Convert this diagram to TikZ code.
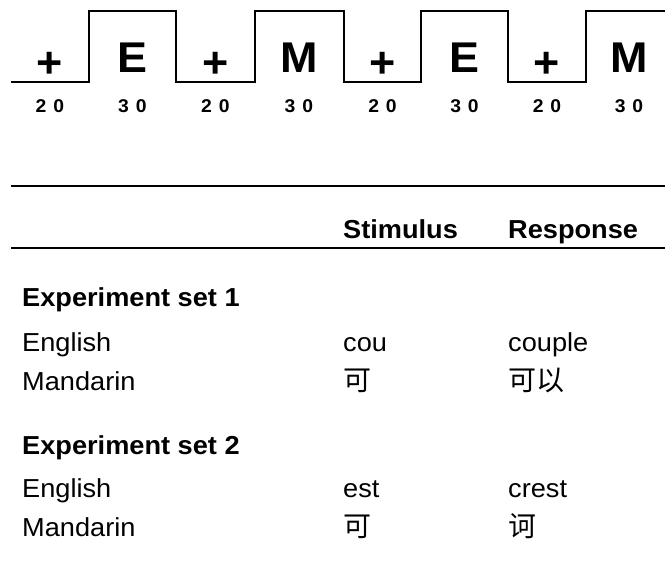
\documentclass[tikz,border=0pt]{standalone}
\usepackage{fontspec}
\setmainfont[FakeStretch=1.045]{Liberation Sans}
\newfontfamily\cjk{Noto Sans CJK SC}
\begin{document}
\begin{tikzpicture}[x=1pt,y=-1pt,
  wave/.style={line width=2pt, line join=miter},
  rulel/.style={line width=2pt},
  big/.style={font=\fontsize{43}{43}\selectfont\bfseries, inner sep=0pt, anchor=base},
  dur/.style={font=\fontsize{18.5}{18.5}\selectfont\bfseries, inner sep=0pt, anchor=base},
  head/.style={font=\fontsize{26}{30}\selectfont\bfseries, inner sep=0pt, anchor=base west},
  txt/.style={font=\fontsize{26}{30}\selectfont, inner sep=0pt, anchor=base west},
  zh/.style={font=\cjk\fontsize{28}{30}\selectfont, inner sep=0pt, anchor=base west},
]
\useasboundingbox (0,0) rectangle (665,577);
% stimulus sequence waveform
\draw[wave] (11,82) -- (89,82) -- (89,11) -- (176,11) -- (176,82) -- (255,82)
  -- (255,11) -- (344,11) -- (344,82) -- (421,82) -- (421,11) -- (508,11)
  -- (508,82) -- (586,82) -- (586,11) -- (666,11);
% symbols
\node[big] (s1) at (50,78) {+};
\node[big] (s2) at (132.5,73) {E};
\node[big] (s3) at (215.5,78) {+};
\node[big] (s4) at (299,73) {M};
\node[big] (s5) at (382.5,78) {+};
\node[big] (s6) at (464.5,73) {E};
\node[big] (s7) at (547,78) {+};
\node[big] (s8) at (629,73) {M};
% durations
\node[dur] (d1) at (50,113) {2\kern7pt 0};
\node[dur] (d2) at (132.5,113) {3\kern7pt 0};
\node[dur] (d3) at (215.5,113) {2\kern7pt 0};
\node[dur] (d4) at (299,113) {3\kern7pt 0};
\node[dur] (d5) at (382.5,113) {2\kern7pt 0};
\node[dur] (d6) at (464.5,113) {3\kern7pt 0};
\node[dur] (d7) at (547,113) {2\kern7pt 0};
\node[dur] (d8) at (629,113) {3\kern7pt 0};
% table rules
\draw[rulel] (11,186) -- (665,186);
\draw[rulel] (11,248) -- (665,248);
% headers
\node[head] (hs) at (343,239) {Stimulus};
\node[head] (hr) at (508,239) {Response};
% set 1
\node[head] (e1) at (22,307) {Experiment set 1};
\node[txt] (en1) at (22,352) {English};
\node[txt] (ma1) at (22,391) {Mandarin};
\node[txt] (st1) at (343,352) {cou};
\node[txt] (rs1) at (508,352) {couple};
\node[zh] (zs1) at (343,391) {可};
\node[zh] (zr1) at (508,391) {可以};
% set 2
\node[head] (e2) at (22,455) {Experiment set 2};
\node[txt] (en2) at (22,498) {English};
\node[txt] (ma2) at (22,537) {Mandarin};
\node[txt] (st2) at (343,498) {est};
\node[txt] (rs2) at (508,498) {crest};
\node[zh] (zs2) at (343,537) {可};
\node[zh] (zr2) at (508,537) {诃};
\end{tikzpicture}
\end{document}
